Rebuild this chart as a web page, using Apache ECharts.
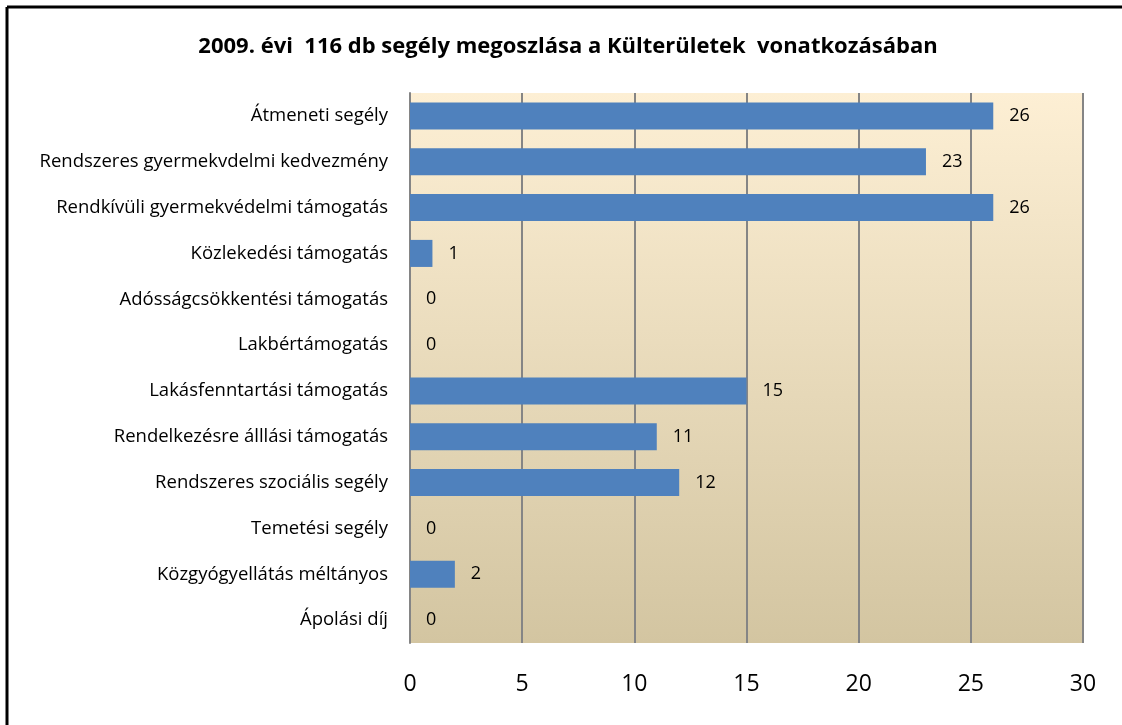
<!DOCTYPE html>
<html>
<head>
<meta charset="utf-8">
<script src="https://cdn.jsdelivr.net/npm/echarts@6/dist/echarts.min.js"></script>
<style>
  html, body { margin: 0; padding: 0; background: #fff; }
  #chart { width: 1122px; height: 725px; }
</style>
</head>
<body>
<div id="chart"></div>
<script>
// categories top to bottom as in the picture
const categories = [
  "Átmeneti segély",
  "Rendszeres gyermekvdelmi kedvezmény",
  "Rendkívüli gyermekvédelmi támogatás",
  "Közlekedési támogatás",
  "Adósságcsökkentési támogatás",
  "Lakbértámogatás",
  "Lakásfenntartási támogatás",
  "Rendelkezésre álllási támogatás",
  "Rendszeres szociális segély",
  "Temetési segély",
  "Közgyógyellátás méltányos",
  "Ápolási díj"
];
const values = [26, 23, 26, 1, 0, 0, 15, 11, 12, 0, 2, 0];
const xTicks = [0, 5, 10, 15, 20, 25, 30];

const font = "'Open Sans', 'Noto Sans', sans-serif";

const myChart = echarts.init(document.getElementById("chart"));
const option = {
  animation: false,
  title: {
    text: "2009. évi  116 db segély megoszlása a Külterületek  vonatkozásában",
    left: 563,
    textAlign: "center",
    top: 31,
    textStyle: { fontFamily: font, fontSize: 22, fontWeight: "bold", color: "#000" }
  },
  graphic: [
    { type: "line", shape: { x1: 7, y1: 7, x2: 1122, y2: 7 }, style: { stroke: "#000", lineWidth: 3 } },
    { type: "line", shape: { x1: 7, y1: 7, x2: 7, y2: 725 }, style: { stroke: "#000", lineWidth: 3 } }
  ],
  grid: {
    left: 410,
    right: 39,
    top: 93,
    bottom: 82,
    show: true,
    borderWidth: 0,
    backgroundColor: new echarts.graphic.LinearGradient(0, 0, 0, 1, [
      { offset: 0, color: "#fdefd4" },
      { offset: 1, color: "#d3c5a1" }
    ])
  },
  xAxis: {
    type: "value",
    min: xTicks[0],
    max: xTicks[xTicks.length - 1],
    interval: 5,
    axisLine: { show: false },
    axisTick: { show: false },
    splitLine: { show: true, lineStyle: { color: "#858585", width: 2 } },
    axisLabel: { fontFamily: font, fontSize: 23, color: "#000", margin: 30 }
  },
  yAxis: {
    type: "category",
    data: categories,
    inverse: true,
    axisLine: { show: true, lineStyle: { color: "#858585", width: 2 } },
    axisTick: { show: false },
    axisLabel: { fontFamily: font, fontSize: 18.5, color: "#000", margin: 22 }
  },
  series: [
    {
      name: "db",
      type: "bar",
      data: values,
      barWidth: "59%",
      itemStyle: { color: "#4f81bd" },
      label: {
        show: true,
        position: "right",
        distance: 16,
        fontFamily: font,
        fontSize: 18,
        color: "#000"
      }
    }
  ]
};
myChart.setOption(option, true);
</script>
</body>
</html>
